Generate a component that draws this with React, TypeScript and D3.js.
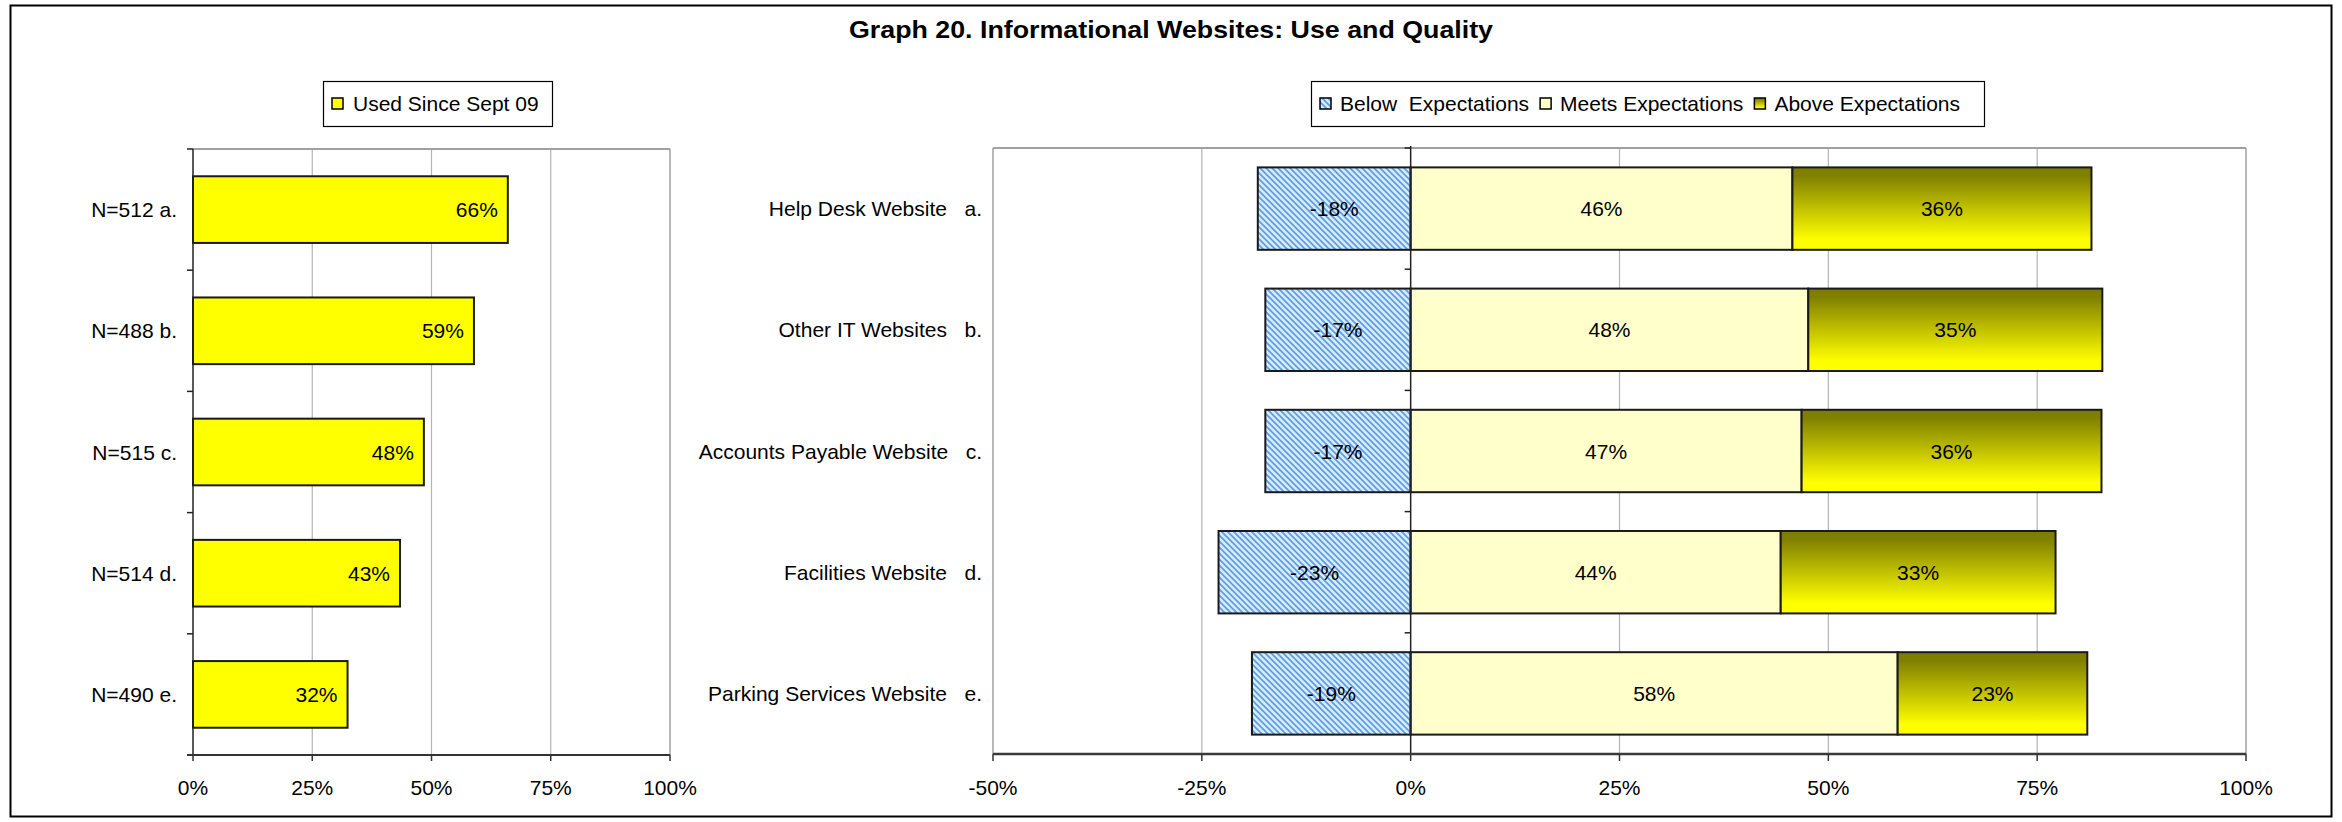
import React, { useEffect, useRef } from 'react';
import * as d3 from 'd3';

const chartTitle = 'Graph 20. Informational Websites: Use and Quality';
const usageLegend = 'Used Since Sept 09';
const usageLabels = ['N=512 a.', 'N=488 b.', 'N=515 c.', 'N=514 d.', 'N=490 e.'];
const usageValues = [0.66, 0.589, 0.484, 0.434, 0.324];

const qualityLegend = ['Below  Expectations', 'Meets Expectations', 'Above Expectations'];
const websiteNames = ['Help Desk Website', 'Other IT Websites', 'Accounts Payable Website', 'Facilities Website', 'Parking Services Website'];
const websiteLetters = ['a.', 'b.', 'c.', 'd.', 'e.'];
const belowValues = [-0.183, -0.174, -0.174, -0.23, -0.19];
const meetsValues = [0.457, 0.476, 0.468, 0.443, 0.583];
const aboveValues = [0.358, 0.352, 0.359, 0.329, 0.227];

const leftTicks = [0, 0.25, 0.5, 0.75, 1];
const rightTicks = [-0.5, -0.25, 0, 0.25, 0.5, 0.75, 1];

const W = 2342;
const H = 822;
const FONT = '"Liberation Sans", Arial, sans-serif';
const FS = 21;

const pct = (v: number) => `${Math.round(v * 100)}%`;

export default function App() {
  const ref = useRef<SVGSVGElement | null>(null);

  useEffect(() => {
    const svg = d3.select(ref.current);
    svg.selectAll('*').remove();
    svg.attr('font-family', FONT).attr('font-size', FS);

    const defs = svg.append('defs');
    const pat = defs.append('pattern').attr('id', 'belowHatch')
      .attr('patternUnits', 'userSpaceOnUse').attr('width', 6).attr('height', 6);
    pat.append('rect').attr('width', 6).attr('height', 6).attr('fill', '#d6ebff');
    pat.append('path').attr('d', 'M-1,-1 L7,7 M-1,5 L1,7 M5,-1 L7,1')
      .attr('stroke', '#5e9bef').attr('stroke-width', 1.7);
    const grad = defs.append('linearGradient').attr('id', 'aboveGrad')
      .attr('x1', 0).attr('y1', 0).attr('x2', 0).attr('y2', 1);
    grad.append('stop').attr('offset', 0).attr('stop-color', '#7c7c00');
    grad.append('stop').attr('offset', 0.1).attr('stop-color', '#808000');
    grad.append('stop').attr('offset', 0.88).attr('stop-color', '#ffff00');
    grad.append('stop').attr('offset', 1).attr('stop-color', '#ffff00');

    // outer frame
    svg.append('rect').attr('x', 10.5).attr('y', 5.5).attr('width', 2321).attr('height', 811)
      .attr('fill', '#fff').attr('stroke', '#000').attr('stroke-width', 2);

    svg.append('text').attr('x', 1171).attr('y', 38).attr('text-anchor', 'middle')
      .attr('font-weight', 'bold').attr('font-size', 24)
      .attr('textLength', 644).attr('lengthAdjust', 'spacingAndGlyphs').text(chartTitle);

    // ---------------- LEFT CHART ----------------
    const lx = d3.scaleLinear().domain([0, 1]).range([193, 670]);
    const ly = d3.scaleBand<string>().domain(usageLabels).range([149, 755])
      .paddingInner(0.45).paddingOuter(0.225);
    const lTop = 149, lBot = 755;

    const lg = svg.append('g');
    lg.selectAll('line.grid').data(leftTicks.filter(t => t > 0 && t < 1)).enter().append('line')
      .attr('x1', d => lx(d)).attr('x2', d => lx(d)).attr('y1', lTop).attr('y2', lBot)
      .attr('stroke', '#b4b4b4').attr('stroke-width', 1.2);
    lg.append('line').attr('x1', lx(0)).attr('x2', lx(1)).attr('y1', lTop).attr('y2', lTop)
      .attr('stroke', '#a0a0a0').attr('stroke-width', 2);
    lg.append('line').attr('x1', lx(1)).attr('x2', lx(1)).attr('y1', lTop).attr('y2', lBot)
      .attr('stroke', '#a0a0a0').attr('stroke-width', 1.5);

    lg.selectAll('rect.bar').data(usageValues).enter().append('rect')
      .attr('x', lx(0)).attr('y', (_, i) => ly(usageLabels[i])!)
      .attr('width', d => lx(d) - lx(0)).attr('height', ly.bandwidth())
      .attr('fill', '#ffff00').attr('stroke', '#1a1a1a').attr('stroke-width', 2);
    lg.selectAll('text.val').data(usageValues).enter().append('text')
      .attr('x', d => lx(d) - 10).attr('y', (_, i) => ly(usageLabels[i])! + ly.bandwidth() / 2 + 7.5)
      .attr('text-anchor', 'end').text(d => pct(d));

    lg.append('line').attr('x1', lx(0)).attr('x2', lx(0)).attr('y1', lTop).attr('y2', lBot)
      .attr('stroke', '#222').attr('stroke-width', 1.5);
    const lStep = ly.step();
    lg.selectAll('line.ctick').data(d3.range(usageLabels.length + 1)).enter().append('line')
      .attr('x1', lx(0) - 6).attr('x2', lx(0)).attr('y1', i => lTop + i * lStep).attr('y2', i => lTop + i * lStep)
      .attr('stroke', '#222').attr('stroke-width', 1.5);
    lg.append('line').attr('x1', lx(0) - 6).attr('x2', lx(1)).attr('y1', lBot).attr('y2', lBot)
      .attr('stroke', '#333').attr('stroke-width', 2);
    lg.selectAll('line.vtick').data(leftTicks).enter().append('line')
      .attr('x1', d => lx(d)).attr('x2', d => lx(d)).attr('y1', lBot).attr('y2', lBot + 6)
      .attr('stroke', '#333').attr('stroke-width', 1.5);
    lg.selectAll('text.vlab').data(leftTicks).enter().append('text')
      .attr('x', d => lx(d)).attr('y', 795).attr('text-anchor', 'middle').text(d => pct(d));
    lg.selectAll('text.clab').data(usageLabels).enter().append('text')
      .attr('x', 177).attr('y', d => ly(d)! + ly.bandwidth() / 2 + 7.5)
      .attr('text-anchor', 'end').text(d => d);

    lg.append('rect').attr('x', 323.5).attr('y', 81.5).attr('width', 229).attr('height', 45)
      .attr('fill', '#fff').attr('stroke', '#000').attr('stroke-width', 1.2);
    lg.append('rect').attr('x', 332).attr('y', 98).attr('width', 11).attr('height', 11)
      .attr('fill', '#ffff00').attr('stroke', '#000').attr('stroke-width', 1.5);
    lg.append('text').attr('x', 353).attr('y', 111).text(usageLegend);

    // ---------------- RIGHT CHART ----------------
    const rx = d3.scaleLinear().domain([-0.5, 1]).range([993, 2246]);
    const keys = websiteNames.map((n, i) => `${n}   ${websiteLetters[i]}`);
    const ry = d3.scaleBand<string>().domain(keys).range([148, 754])
      .paddingInner(0.32).paddingOuter(0.16);
    const rTop = 148, rBot = 754;
    const rg = svg.append('g');

    rg.selectAll('line.grid').data(rightTicks.filter(t => t > -0.5 && t < 1 && t !== 0)).enter().append('line')
      .attr('x1', d => rx(d)).attr('x2', d => rx(d)).attr('y1', rTop).attr('y2', rBot)
      .attr('stroke', '#b4b4b4').attr('stroke-width', 1.2);
    rg.append('line').attr('x1', rx(-0.5)).attr('x2', rx(1)).attr('y1', rTop).attr('y2', rTop)
      .attr('stroke', '#a0a0a0').attr('stroke-width', 2);
    [-0.5, 1].forEach(t => {
      rg.append('line').attr('x1', rx(t)).attr('x2', rx(t)).attr('y1', rTop).attr('y2', rBot)
        .attr('stroke', '#a0a0a0').attr('stroke-width', 1.5);
    });

    const rows = keys.map((k, i) => ({ k, below: belowValues[i], meets: meetsValues[i], above: aboveValues[i] }));
    const bh = ry.bandwidth();
    rows.forEach(r => {
      const y = ry(r.k)!;
      const segs = [
        { x0: r.below, x1: 0, fill: 'url(#belowHatch)', v: r.below },
        { x0: 0, x1: r.meets, fill: '#ffffcc', v: r.meets },
        { x0: r.meets, x1: r.meets + r.above, fill: 'url(#aboveGrad)', v: r.above },
      ];
      segs.forEach(s => {
        rg.append('rect').attr('x', rx(s.x0)).attr('y', y).attr('width', rx(s.x1) - rx(s.x0)).attr('height', bh)
          .attr('fill', s.fill).attr('stroke', '#1a1a1a').attr('stroke-width', 2);
      });
      segs.forEach(s => {
        rg.append('text').attr('x', (rx(s.x0) + rx(s.x1)) / 2).attr('y', y + bh / 2 + 7.5)
          .attr('text-anchor', 'middle').text(pct(s.v));
      });
    });

    rg.append('line').attr('x1', rx(0)).attr('x2', rx(0)).attr('y1', rTop - 2).attr('y2', rBot)
      .attr('stroke', '#222').attr('stroke-width', 1.5);
    const rStep = ry.step();
    rg.selectAll('line.ctick').data(d3.range(keys.length + 1)).enter().append('line')
      .attr('x1', rx(0) - 6).attr('x2', rx(0)).attr('y1', i => rTop + i * rStep).attr('y2', i => rTop + i * rStep)
      .attr('stroke', '#222').attr('stroke-width', 1.5);
    rg.append('line').attr('x1', rx(-0.5)).attr('x2', rx(1)).attr('y1', rBot).attr('y2', rBot)
      .attr('stroke', '#3a3a3a').attr('stroke-width', 2.5);
    rg.selectAll('line.vtick').data(rightTicks).enter().append('line')
      .attr('x1', d => rx(d)).attr('x2', d => rx(d)).attr('y1', rBot).attr('y2', rBot + 7)
      .attr('stroke', '#333').attr('stroke-width', 1.5);
    rg.selectAll('text.vlab').data(rightTicks).enter().append('text')
      .attr('x', d => rx(d)).attr('y', 795).attr('text-anchor', 'middle').text(d => pct(d));
    rg.selectAll('text.clab').data(keys).enter().append('text')
      .attr('x', 982).attr('y', d => ry(d)! + bh / 2 + 7.5)
      .attr('text-anchor', 'end').style('white-space', 'pre').text(d => d);

    rg.append('rect').attr('x', 1311.5).attr('y', 81.5).attr('width', 673).attr('height', 45)
      .attr('fill', '#fff').attr('stroke', '#000').attr('stroke-width', 1.2);
    const fills = ['url(#belowHatch)', '#ffffcc', 'url(#aboveGrad)'];
    let cx = 1320;
    qualityLegend.forEach((label, i) => {
      rg.append('rect').attr('x', cx).attr('y', 98).attr('width', 11).attr('height', 11)
        .attr('fill', fills[i]).attr('stroke', '#000').attr('stroke-width', 1.5);
      const t = rg.append('text').attr('x', cx + 20).attr('y', 111).style('white-space', 'pre').text(label);
      const w = (t.node() as SVGTextElement).getComputedTextLength();
      cx = cx + 20 + w + 11;
    });
  }, []);

  return (
    <svg ref={ref} width={W} height={H} style={{ position: 'absolute', left: 0, top: 0, background: '#fff' }} />
  );
}
